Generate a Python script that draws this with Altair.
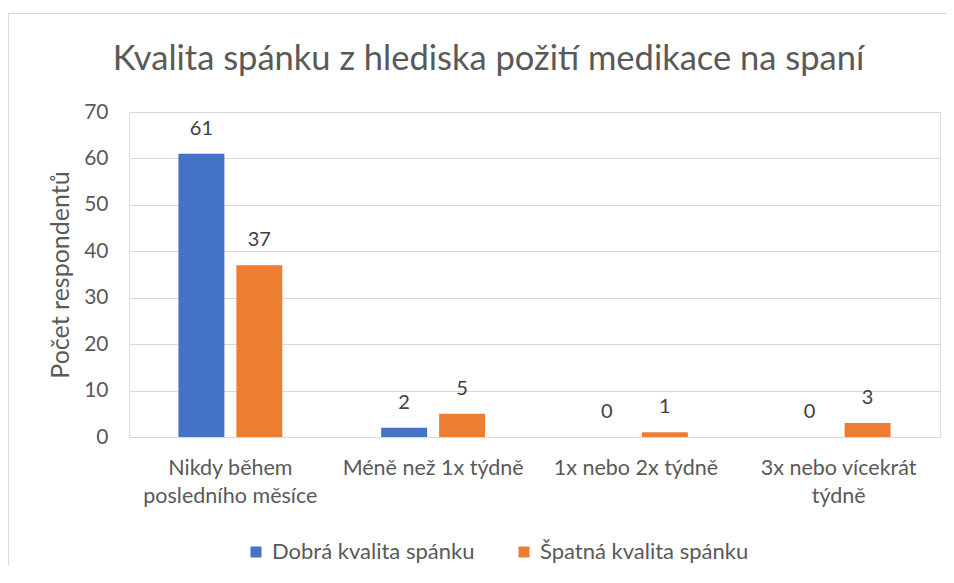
import altair as alt
import pandas as pd

categories = ["Nikdy během posledního měsíce", "Méně než 1x týdně", "1x nebo 2x týdně", "3x nebo vícekrát týdně"]
series = ["Dobrá kvalita spánku", "Špatná kvalita spánku"]
good = [61, 2, 0, 0]
bad = [37, 5, 1, 3]
colors = ["#4472C4", "#ED7D31"]

rows = []
for c, g, b in zip(categories, good, bad):
    rows.append({"kategorie": c, "serie": series[0], "pocet": g})
    rows.append({"kategorie": c, "serie": series[1], "pocet": b})
df = pd.DataFrame(rows)

FONT = "Lato"
label_expr = ("datum.value == 'Nikdy během posledního měsíce' ? ['Nikdy během', 'posledního měsíce'] : "
              "datum.value == '3x nebo vícekrát týdně' ? ['3x nebo vícekrát', 'týdně'] : datum.value")

x = alt.X("kategorie:N", sort=categories, title=None,
          scale=alt.Scale(paddingInner=0, paddingOuter=0),
          axis=alt.Axis(labelExpr=label_expr, labelAngle=0, labelFontSize=21.5, labelColor="#595959",
                        labelFont=FONT, labelPadding=20, ticks=False, domain=False, labelLineHeight=28,
                        labelLimit=300))
xo = alt.XOffset("serie:N", sort=series,
                 scale=alt.Scale(paddingInner=0.207, paddingOuter=0.853))
y = alt.Y("pocet:Q", title="Počet respondentů",
          scale=alt.Scale(domain=[0, 70]),
          axis=alt.Axis(values=list(range(0, 71, 10)), labelFontSize=21, labelColor="#595959",
                        labelFont=FONT, labelPadding=21, ticks=False, domain=False,
                        gridColor="#D9D9D9", titleFontSize=25, titleColor="#595959",
                        titleFont=FONT, titleFontWeight="normal", titlePadding=10))

bars = alt.Chart(df).mark_bar().encode(
    x=x, xOffset=xo, y=y,
    color=alt.Color("serie:N", sort=series, scale=alt.Scale(domain=series, range=colors),
                    legend=alt.Legend(title=None, orient="none", direction="horizontal",
                                      legendX=116, legendY=429, symbolType="square",
                                      symbolSize=121, symbolStrokeWidth=0, labelFontSize=22,
                                      labelColor="#595959", labelFont=FONT, columnPadding=38,
                                      labelOffset=5, labelLimit=400)),
)

labels = alt.Chart(df).mark_text(fontSize=20, color="#404040", font=FONT, baseline="middle", dy=-25).encode(
    x=x, xOffset=xo, y=y, text=alt.Text("pocet:Q"),
)

border_top = alt.Chart(df).mark_rule(stroke="#D9D9D9", strokeWidth=1).encode(
    x=alt.value(-120.5), x2=alt.value(817), y=alt.value(-98.5),
)
border_left = alt.Chart(df).mark_rule(stroke="#D9D9D9", strokeWidth=1).encode(
    x=alt.value(-120.5), y=alt.value(-98.5), y2=alt.value(460),
)

chart = alt.layer(border_top, border_left, bars, labels).properties(
    width=811, height=325,
    autosize=alt.AutoSizeParams(type="none"),
    padding={"left": 121, "top": 104, "right": 6, "bottom": 128},
    title=alt.TitleParams("Kvalita spánku z hlediska požití medikace na spaní", fontSize=34.5,
                          font=FONT, fontWeight="normal", color="#595959", anchor="middle",
                          frame="group", dx=-46, offset=-64),
).configure_view(stroke=None).configure(background="white")

chart.save("out.html", embed_options={"renderer": "svg", "actions": False})
